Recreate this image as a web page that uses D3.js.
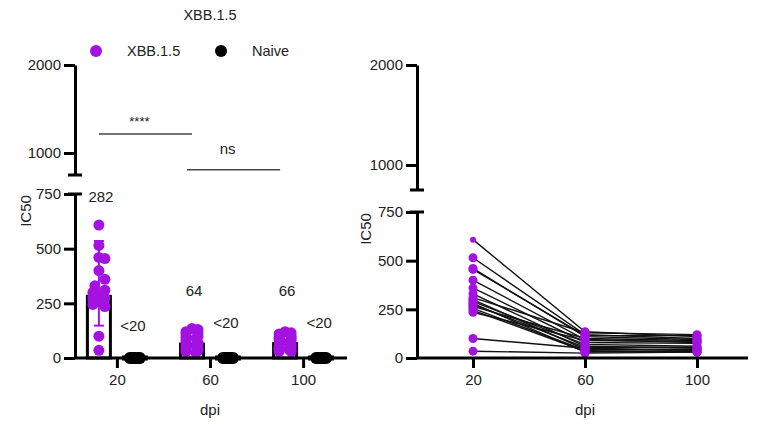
<!DOCTYPE html>
<html>
<head>
<meta charset="utf-8">
<script src="https://cdn.jsdelivr.net/npm/d3@7"></script>
<style>
  body { margin: 0; background: #fff; }
  text { font-family: "Liberation Sans", Arial, sans-serif; fill: #222; }
</style>
</head>
<body>
<div id="chart-area"></div>
<script>
var days = ["20", "60", "100"];
var groups = ["XBB.1.5", "Naive"];

// paired IC50 values per subject (XBB.1.5 group)
var d20 = [608, 515, 460, 455, 400, 360, 330, 310, 300, 290, 280, 275, 265, 255, 245, 235, 100, 35];
var d60 = [135, 120, 110, 115, 95, 80, 60, 130, 45, 70, 30, 55, 100, 40, 35, 90, 50, 25];
var d100 = [110, 100, 95, 115, 80, 75, 50, 120, 40, 60, 35, 55, 90, 45, 30, 85, 40, 30];
var naive = [0, 0, 0, 0, 0, 0, 0, 0];

// bar heights (geometric means), error bars and labels
var barMeans = [282, 64, 66];
var errLow = [148, null, null];
var errHigh = [535, null, null];
var meanLabels = ["282", "64", "66"];
var naiveLabel = "<20";
var naiveMeans = [0, 0, 0];

var purple = "#a312e0";

var svg = d3.select("#chart-area")
  .append("svg")
  .attr("width", 767)
  .attr("height", 424);

// ---------- left panel ----------
var left = svg.append("g");

var x = d3.scalePoint().domain(days).range([75, 345]).padding(0.45);
var sub = d3.scaleBand().domain(groups).range([-36, 36]);
var yLow = d3.scaleLinear().domain([0, 750]).range([358, 194]);
var yHigh = d3.scaleLinear().domain([750, 2000]).range([175, 65]);

function drawYAxis(g, ax, yl, yh) {
  // lower segment
  g.append("g")
    .attr("transform", "translate(" + ax + ",0)")
    .call(d3.axisLeft(yl).tickValues([0, 250, 500, 750]).tickFormat(d3.format("d")).tickSize(11).tickPadding(3).tickSizeOuter(0))
    .call(a => a.select(".domain").attr("stroke-width", 3))
    .call(a => a.selectAll(".tick line").attr("stroke-width", 3))
    .call(a => a.selectAll(".tick text").style("font-size", "15px").attr("fill", "#222"));
  // upper segment
  g.append("g")
    .attr("transform", "translate(" + ax + ",0)")
    .call(d3.axisLeft(yh).tickValues([1000, 2000]).tickFormat(d3.format("d")).tickSize(11).tickPadding(3).tickSizeOuter(0))
    .call(a => a.select(".domain").attr("stroke-width", 3))
    .call(a => a.selectAll(".tick line").attr("stroke-width", 3))
    .call(a => a.selectAll(".tick text").style("font-size", "15px").attr("fill", "#222"));
  // break caps
  g.append("line").attr("x1", ax - 7).attr("x2", ax + 7)
    .attr("y1", yh(750)).attr("y2", yh(750)).attr("stroke", "#000").attr("stroke-width", 3);
  g.append("line").attr("x1", ax - 7).attr("x2", ax + 7)
    .attr("y1", yl(750)).attr("y2", yl(750)).attr("stroke", "#000").attr("stroke-width", 3);
}

function drawXAxis(g, xs, x0, x1, y0) {
  g.append("g")
    .attr("transform", "translate(0," + y0 + ")")
    .call(d3.axisBottom(xs).tickSize(10).tickPadding(6))
    .call(a => a.select(".domain").remove())
    .call(a => a.selectAll(".tick line").attr("stroke-width", 3))
    .call(a => a.selectAll(".tick text").style("font-size", "15px").attr("fill", "#222"));
  g.append("line").attr("x1", x0).attr("x2", x1).attr("y1", y0).attr("y2", y0)
    .attr("stroke", "#000").attr("stroke-width", 3);
}

// simple beeswarm offsets within a limited width
function swarm(values, ys, r, maxOff) {
  var placed = [];
  var order = values.map((v, i) => i).sort((a, b) => values[b] - values[a]);
  var offs = new Array(values.length);
  order.forEach(i => {
    var py = ys(values[i]);
    var cands = [0];
    for (var k = 1; k * 2 <= maxOff; k++) { cands.push(k * 2, -k * 2); }
    var best = 0, bestCost = Infinity;
    cands.forEach(c => {
      var cost = 0;
      placed.forEach(p => {
        var d = Math.hypot(p.x - c, p.y - py);
        if (d < 2 * r) cost += 2 * r - d;
      });
      cost += Math.abs(c) * 0.3;
      if (cost < bestCost) { bestCost = cost; best = c; }
    });
    placed.push({ x: best, y: py });
    offs[i] = best;
  });
  return offs;
}

var xbbSets = [d20, d60, d100];
var barW = 23;

// bars
days.forEach((d, i) => {
  var cx = x(d) + sub("XBB.1.5") + sub.bandwidth() / 2;
  left.append("rect")
    .attr("x", cx - barW / 2).attr("y", yLow(barMeans[i]))
    .attr("width", barW).attr("height", yLow(0) - yLow(barMeans[i]))
    .attr("fill", "none").attr("stroke", "#000").attr("stroke-width", 3);
  var nx = x(d) + sub("Naive") + sub.bandwidth() / 2;
  left.append("rect")
    .attr("x", nx - barW / 2).attr("y", yLow(naiveMeans[i]) - 1)
    .attr("width", barW).attr("height", 2)
    .attr("fill", "none").attr("stroke", "#000").attr("stroke-width", 3);
});

// error bars
days.forEach((d, i) => {
  if (errLow[i] == null) return;
  var cx = x(d) + sub("XBB.1.5") + sub.bandwidth() / 2;
  var eg = left.append("g").attr("stroke", purple).attr("stroke-width", 2);
  eg.append("line").attr("x1", cx).attr("x2", cx).attr("y1", yLow(errLow[i])).attr("y2", yLow(errHigh[i]));
  [errLow[i], errHigh[i]].forEach(v => {
    eg.append("line").attr("x1", cx - 5).attr("x2", cx + 5).attr("y1", yLow(v)).attr("y2", yLow(v));
  });
});

// dots
days.forEach((d, i) => {
  var cx = x(d) + sub("XBB.1.5") + sub.bandwidth() / 2;
  var vals = xbbSets[i];
  var offs = swarm(vals, yLow, 5.5, 6);
  left.append("g").selectAll("circle")
    .data(vals)
    .enter()
    .append("circle")
    .attr("cx", (v, j) => cx + offs[j])
    .attr("cy", v => yLow(v))
    .attr("r", 5.5)
    .attr("fill", purple);

  var nx = x(d) + sub("Naive") + sub.bandwidth() / 2;
  left.append("g").selectAll("circle")
    .data(naive)
    .enter()
    .append("circle")
    .attr("cx", (v, j) => nx - 5 + 10 * j / (naive.length - 1))
    .attr("cy", v => yLow(v))
    .attr("r", 6)
    .attr("fill", "#000");
});

drawYAxis(left, 75, yLow, yHigh);
drawXAxis(left, x, 75, 347, 358);

// value labels
days.forEach((d, i) => {
  var cx = x(d) + sub("XBB.1.5") + sub.bandwidth() / 2;
  var ly = i === 0 ? 202 : 296;
  left.append("text").attr("x", cx + 2).attr("y", ly)
    .attr("text-anchor", "middle").style("font-size", "15px").text(meanLabels[i]);
  var nx = x(d) + sub("Naive") + sub.bandwidth() / 2;
  left.append("text").attr("x", nx - 2).attr("y", i === 0 ? 331 : 328)
    .attr("text-anchor", "middle").style("font-size", "15px").text(naiveLabel);
});

// significance
var sig = [
  { from: "20", to: "60", v: 1215, label: "****", ty: 126, dx: 0 },
  { from: "60", to: "100", v: 810, label: "ns", ty: 154, dx: -5 }
];
sig.forEach(s => {
  var x0 = x(s.from) + sub("XBB.1.5") + sub.bandwidth() / 2 + s.dx;
  var x1 = x(s.to) + sub("XBB.1.5") + sub.bandwidth() / 2 + s.dx;
  left.append("line").attr("x1", x0).attr("x2", x1)
    .attr("y1", yHigh(s.v)).attr("y2", yHigh(s.v))
    .attr("stroke", "#444").attr("stroke-width", 1.5);
  left.append("text").attr("x", (x0 + x1) / 2 - 6).attr("y", s.ty)
    .attr("text-anchor", "middle").style("font-size", s.label === "ns" ? "15px" : "13px").text(s.label);
});

// title, legend, axis titles
left.append("text").attr("x", 210).attr("y", 20).attr("text-anchor", "middle")
  .style("font-size", "14.5px").text("XBB.1.5");

var legend = left.append("g").attr("transform", "translate(96,51)");
var legendColors = [purple, "#000"];
var legendX = [0, 125];
groups.forEach((gname, i) => {
  legend.append("circle").attr("cx", legendX[i]).attr("cy", 0).attr("r", 6).attr("fill", legendColors[i]);
  legend.append("text").attr("x", legendX[i] + 31).attr("y", 5)
    .style("font-size", "14.5px").text(gname);
});

left.append("text").attr("transform", "translate(31,211) rotate(-90)")
  .attr("text-anchor", "middle").style("font-size", "15px").text("IC50");
left.append("text").attr("x", 210).attr("y", 415).attr("text-anchor", "middle")
  .style("font-size", "15px").text("dpi");

// ---------- right panel ----------
var right = svg.append("g");
var x2 = d3.scalePoint().domain(days).range([473, 697]);
var yLow2 = d3.scaleLinear().domain([0, 750]).range([358, 212]);
var yHigh2 = d3.scaleLinear().domain([750, 2000]).range([190, 65]);

var subjects = d20.map((v, i) => [d20[i], d60[i], d100[i]]);
var line = d3.line()
  .x((v, j) => x2(days[j]))
  .y(v => yLow2(v));

right.append("g").selectAll("path")
  .data(subjects)
  .enter()
  .append("path")
  .attr("d", line)
  .attr("fill", "none")
  .attr("stroke", "#111")
  .attr("stroke-width", 1.4);

days.forEach((d, j) => {
  right.append("g").selectAll("circle")
    .data(subjects)
    .enter()
    .append("circle")
    .attr("cx", x2(d))
    .attr("cy", s => yLow2(s[j]))
    .attr("r", s => s[j] > 550 ? 3 : 4.5)
    .attr("fill", purple);
});

drawYAxis(right, 417, yLow2, yHigh2);
drawXAxis(right, x2, 417, 748, 358);

right.append("text").attr("transform", "translate(371,229) rotate(-90)")
  .attr("text-anchor", "middle").style("font-size", "15px").text("IC50");
right.append("text").attr("x", 585).attr("y", 415).attr("text-anchor", "middle")
  .style("font-size", "15px").text("dpi");
</script>
</body>
</html>
